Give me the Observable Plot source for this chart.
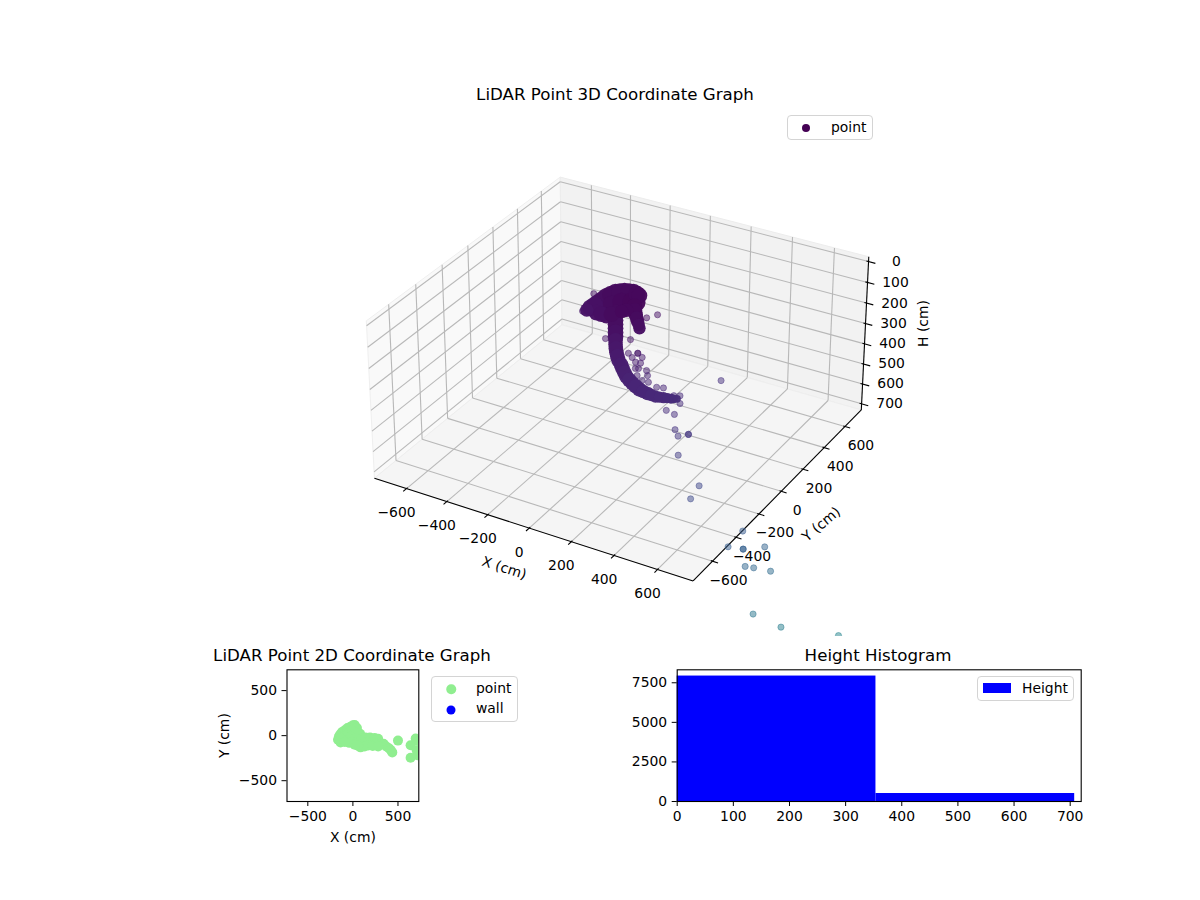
<!DOCTYPE html>
<html><head><meta charset="utf-8">
<script src="https://cdn.jsdelivr.net/npm/d3@7"></script>
<script src="https://cdn.jsdelivr.net/npm/@observablehq/plot@0.6"></script>
<style>
html,body{margin:0;padding:0;background:#fff;}
#page{position:relative;width:1200px;height:900px;overflow:hidden;font-family:"DejaVu Sans",sans-serif;color:#000;}
#page svg{position:absolute;}
.t{position:absolute;font-size:16.67px;transform:translate(-50%,-50%);white-space:nowrap;line-height:1;}
.lg{position:absolute;box-sizing:border-box;border:1px solid #d4d4d4;border-radius:4px;background:rgba(255,255,255,.85);}
.lt{position:absolute;font-size:13.9px;line-height:1;transform:translateY(-50%);white-space:nowrap;}
.sw{position:absolute;border-radius:50%;transform:translate(-50%,-50%);}
</style></head><body><div id="page"></div>
<script>
// ---------- values ----------
const xTicks=[-600,-400,-200,0,200,400,600];
const yTicks=[-600,-400,-200,0,200,400,600];
const hTicks=[0,100,200,300,400,500,600,700];
const xPane=[-761.5,761.5];
const yPane=[-761.5,761.5];
const hPane=[-23,731];

// dense core of the cloud: cells of many returns
const coreX=[-174,-161,-134,-107,-75,-43,0,40,-126,-89,-53,-11,49,-72,-30,13,45,62,77,92,-23,-23,-23,-20,-13,0,22,44,76,115,160,207,251,291,322,
  -23,-23,-22,-17,-7,14,33,60,95,137,183,229,271,306,53,70,85,-148,-120,-91,-59,-21,22,-108,-71,-32,19,-100,-51,-8];
const coreY=[0,10,30,50,70,90,90,70,0,20,40,50,30,-10,0,10,20,0,-10,-20,-20,-20,-20,-25,-30,-35,-40,-45,-50,-60,-70,-85,-95,-105,-110,
  -20,-20,-22,-28,-33,-38,-43,-48,-55,-65,-78,-90,-100,-108,10,-5,-15,20,40,60,80,90,80,10,30,45,40,-5,-5,5];
const coreH=[128,119,97,71,52,48,41,34,128,99,79,63,45,122,101,83,60,84,108,132,126,164,203,238,272,304,335,365,386,399,400,394,381,369,358,
  145,184,220,255,288,320,350,376,393,400,397,388,375,364,72,96,120,108,84,61,50,44,37,113,89,71,54,125,112,92];
const coreN=[225,352,400,400,400,400,400,306,306,400,400,400,400,306,306,225,306,264,225,189,306,306,306,264,264,264,264,264,264,264,225,189,156,127,77,
  306,306,264,264,264,264,264,264,264,225,189,156,127,90,264,225,189,352,400,400,400,400,352,400,400,400,400,306,306,225];

// single returns around the core and along the far trail
const strayX=[183,126,49,-60,90,90,111,85,109,105,149,104,154,128,42,63,90,164,209,247,302,331,337,-175,-195,500,279,316,338,358,404,404,369,513,486,799,788,855,855,956,913,947,1029,1090,1233,1443];
const strayY=[-30,-20,-20,-40,-30,-30,-30,-40,-40,-50,-60,-60,-60,-60,-25,-30,-50,-70,-80,-90,-100,-100,-110,60,0,-60,-122,-119,-152,-162,-157,-157,-179,-260,-282,-415,-519,-517,-517,-527,-609,-601,-615,-878,-921,-848];
const strayH=[38,73,198,214,247,247,261,286,284,306,298,335,321,352,263,275,310,345,351,338,354,346,376,79,139,244,420,430,480,500,480,480,580,640,700,680,700,690,690,640,700,700,680,705,690,700];

// top-down view
const planeTicks=[-500,0,500];
const planeX=[-165,-155,-140,-120,-90,-60,-26,0,20,45,80,-130,-100,-70,-40,-10,20,-137,-100,-60,-20,30,0,-40,50,85,110,100,140,190,240,280,170,220,270,307,340,370,400,437,420,500,640,696,640,715,707,725,130,170,220,280,60,20,-60,-130,-90];
const planeY=[-45,-11,15,40,60,85,100,115,119,85,22,-50,-20,10,40,60,40,-75,-60,-40,-10,-30,-70,-80,-90,-130,-80,-30,-20,-20,-25,-35,-70,-75,-90,-93,-90,-120,-140,-186,-160,-55,-107,-33,-245,-218,-163,-60,-120,-110,-115,-120,-115,-100,-65,-30,-70];

// height histogram
const histEdges=[0,354,708];
const histCounts=[7925,505];
const histXTicks=[0,100,200,300,400,500,600,700];
const histYTicks=[0,2500,5000,7500];

// ---------- view of the 3D box (elevation 30, azimuth -60) ----------
const half=[0.636,0.636,0.315];
const scale3d=2845, cx3d=622.2, cy3d=366.5, clipH=636;
const uVec=[0.866,0.5,0], vVec=[-0.25,0.433,0.866], wVec=[0.433,-0.75,0.5];
function project(X,Y,H){
  const q=[X/xPane[1]*half[0],Y/yPane[1]*half[1],half[2]*(1-2*(H-hPane[0])/(hPane[1]-hPane[0]))];
  const dot=(a,b)=>a[0]*b[0]+a[1]*b[1]+a[2]*b[2];
  const D=10-dot(q,wVec);
  return [dot(q,uVec)/D,dot(q,vVec)/D];
}
const P=(X,Y,H)=>{const p=project(X,Y,H);return {x:p[0],y:p[1]};};
const seg=(a,b)=>{const p=P(...a),q=P(...b);return {x1:p.x,y1:p.y,x2:q.x,y2:q.y};};
const [x0,x1]=xPane,[y0,y1]=yPane,[h0,h1]=hPane;

const paneLeft=[[x0,y0,h1],[x0,y1,h1],[x0,y1,h0],[x0,y0,h0],[x0,y0,h1]].map(a=>P(...a));
const paneBack=[[x0,y1,h1],[x1,y1,h1],[x1,y1,h0],[x0,y1,h0],[x0,y1,h1]].map(a=>P(...a));
const paneFloor=[[x0,y0,h1],[x1,y0,h1],[x1,y1,h1],[x0,y1,h1],[x0,y0,h1]].map(a=>P(...a));

const grid=[
  ...xTicks.flatMap(v=>[seg([v,y0,h1],[v,y1,h1]),seg([v,y1,h1],[v,y1,h0])]),
  ...yTicks.flatMap(v=>[seg([x0,v,h1],[x1,v,h1]),seg([x0,v,h1],[x0,v,h0])]),
  ...hTicks.flatMap(v=>[seg([x0,y0,v],[x0,y1,v]),seg([x0,y1,v],[x1,y1,v])])
];
const edges=[seg([x0,y0,h1],[x1,y0,h1]),seg([x1,y0,h1],[x1,y1,h1]),seg([x1,y1,h1],[x1,y1,h0])];
const tickSegs=[
  ...xTicks.map(v=>seg([v,y0+8,h1],[v,y0-25,h1])),
  ...yTicks.map(v=>seg([x1-8,v,h1],[x1+25,v,h1])),
  ...hTicks.map(v=>seg([x1-10,y1,v],[x1+32,y1,v]))
];
const fmt=v=>String(v).replace("-","\u2212");
const xLabels=xTicks.map(v=>({...P(v,y0,h1),t:fmt(v)}));
const yLabels=yTicks.map(v=>({...P(x1,v,h1),t:fmt(v)}));
const hLabels=hTicks.map(v=>({...P(x1,y1,v),t:fmt(v)}));

const rowsOf=(X,Y,H,N)=>X.map((v,i)=>{const p=project(v,Y[i],H[i]);return {x:p[0],y:p[1],dist:Math.hypot(v,Y[i],H[i]),n:N?N[i]:1};});
const strays=rowsOf(strayX,strayY,strayH);
const core=rowsOf(coreX,coreY,coreH,coreN);

const page=document.getElementById("page");
const fontStyle={fontFamily:"DejaVu Sans",fontSize:"13.9px",background:"none",overflow:"visible"};

const view=Plot.plot({
  width:1200,height:clipH,margin:0,style:fontStyle,
  x:{axis:null,domain:[-cx3d/scale3d,(1200-cx3d)/scale3d],range:[0,1200]},
  y:{axis:null,domain:[cy3d/scale3d,(cy3d-clipH)/scale3d],range:[0,clipH]},
  color:{type:"linear",scheme:"viridis",domain:[0,4000]},
  r:{type:"sqrt",domain:[0,400],range:[0,9]},
  marks:[
    Plot.line(paneLeft,{x:"x",y:"y",fill:"#f9f9f9",stroke:"#efefef",strokeWidth:1}),
    Plot.line(paneBack,{x:"x",y:"y",fill:"#f2f2f2",stroke:"#ececec",strokeWidth:1}),
    Plot.line(paneFloor,{x:"x",y:"y",fill:"#f5f5f5",stroke:"#eeeeee",strokeWidth:1}),
    Plot.link(grid,{x1:"x1",y1:"y1",x2:"x2",y2:"y2",stroke:"#b8b8b8",strokeWidth:1.1}),
    Plot.link(edges,{x1:"x1",y1:"y1",x2:"x2",y2:"y2",stroke:"#000",strokeWidth:1.1}),
    Plot.link(tickSegs,{x1:"x1",y1:"y1",x2:"x2",y2:"y2",stroke:"#000",strokeWidth:1.1}),
    Plot.text(xLabels,{x:"x",y:"y",text:"t",dx:-10,dy:24,fill:"#000"}),
    Plot.text(yLabels,{x:"x",y:"y",text:"t",dx:16,dy:19,fill:"#000"}),
    Plot.text(hLabels,{x:"x",y:"y",text:"t",dx:28,dy:0,fill:"#000"}),
    Plot.text([P(0,y0,h1)],{x:"x",y:"y",text:()=>"X (cm)",dx:-25,dy:40,rotate:18,fill:"#000"}),
    Plot.text([P(x1,0,h1)],{x:"x",y:"y",text:()=>"Y (cm)",dx:40,dy:33,rotate:-40,fill:"#000"}),
    Plot.text([P(x1,y1,(h0+h1)/2)],{x:"x",y:"y",text:()=>"H (cm)",dx:59,dy:-11,rotate:-90,fill:"#000"}),
    Plot.dot(strays,{x:"x",y:"y",fill:"dist",stroke:"dist",r:3.1,fillOpacity:0.5,strokeOpacity:0.45,strokeWidth:1,clip:true}),
    Plot.dot(core,{x:"x",y:"y",fill:"dist",r:"n",fillOpacity:0.97,stroke:"none",clip:true})
  ]
});
view.style.left="0px";view.style.top="0px";
page.appendChild(view);

const plane=Plot.plot({
  width:240,height:210,marginLeft:86.5,marginRight:21.7,marginTop:29.3,marginBottom:49,style:fontStyle,
  x:{domain:[-731,731]},y:{domain:[-731,731]},
  marks:[
    Plot.dot(d3.zip(planeX,planeY),{x:d=>d[0],y:d=>d[1],r:5,fill:"lightgreen",stroke:"none",clip:true}),
    Plot.axisX({ticks:planeTicks,tickSize:5,tickPadding:5,label:"X (cm)",labelAnchor:"center",labelArrow:"none",labelOffset:40,stroke:"#000",fill:"#000"}),
    Plot.axisY({ticks:planeTicks,tickSize:5,tickPadding:5,label:"Y (cm)",labelAnchor:"center",labelArrow:"none",labelOffset:68,stroke:"#000",fill:"#000"}),
    Plot.frame({stroke:"#000",strokeWidth:1.1})
  ]
});
plane.style.left="200px";plane.style.top="640px";
page.appendChild(plane);

const hist=Plot.plot({
  width:480,height:210,marginLeft:56.7,marginRight:19.3,marginTop:29.3,marginBottom:49,style:fontStyle,
  x:{domain:[0,719.6]},y:{domain:[0,8320]},
  marks:[
    Plot.rectY(histCounts,{x1:(d,i)=>histEdges[i],x2:(d,i)=>histEdges[i+1],y:d=>d,fill:"#0000ff",inset:0}),
    Plot.axisX({ticks:histXTicks,tickSize:5,tickPadding:5,label:null,stroke:"#000",fill:"#000"}),
    Plot.axisY({ticks:histYTicks,tickSize:5,tickPadding:5,label:null,tickFormat:d=>String(d),stroke:"#000",fill:"#000"}),
    Plot.frame({stroke:"#000",strokeWidth:1.1})
  ]
});
hist.style.left="620px";hist.style.top="640px";
page.appendChild(hist);

// ---------- titles and legends ----------
function add(cls,css,text){const e=document.createElement("div");e.className=cls;Object.assign(e.style,css);if(text)e.textContent=text;page.appendChild(e);return e;}
add("t",{left:"615px",top:"95px"},"LiDAR Point 3D Coordinate Graph");
add("t",{left:"352px",top:"656px"},"LiDAR Point 2D Coordinate Graph");
add("t",{left:"878px",top:"656px"},"Height Histogram");

add("lg",{left:"787px",top:"115px",width:"86px",height:"25px"});
add("sw",{left:"806px",top:"127.5px",width:"8px",height:"8px",background:"#440154"});
add("lt",{left:"831px",top:"128px"},"point");

add("lg",{left:"431px",top:"676px",width:"87px",height:"46px"});
add("sw",{left:"451px",top:"689px",width:"9.5px",height:"9.5px",background:"lightgreen"});
add("sw",{left:"451px",top:"710px",width:"9px",height:"9px",background:"#0000ff"});
add("lt",{left:"476px",top:"689px"},"point");
add("lt",{left:"476px",top:"709px"},"wall");

add("lg",{left:"977px",top:"676px",width:"97px",height:"25px"});
add("lt",{left:"983px",top:"688px",width:"28px",height:"10px",background:"#0000ff"});
add("lt",{left:"1022px",top:"689px"},"Height");
</script></body></html>
